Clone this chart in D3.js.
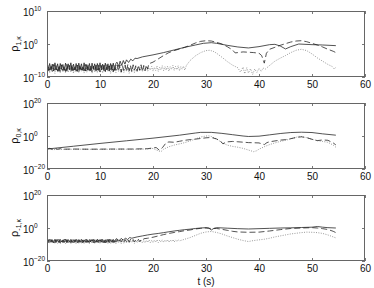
<!DOCTYPE html>
<html><head><meta charset="utf-8">
<script src="https://cdn.jsdelivr.net/npm/d3@7/dist/d3.min.js"></script>
<style>
html,body{margin:0;padding:0;background:#fff;}
svg{display:block;font-family:"Liberation Sans",Arial,Helvetica,sans-serif;}
</style></head>
<body>
<svg id="chart" width="374" height="288"></svg>
<script>
// ---------- DATA (values are log10 exponents of rho) ----------
const xTicks = [0, 10, 20, 30, 40, 50, 60];
const NOISE_DT = 0.25; // sampling step (s) of the oscillating start segments

// Panel 1: rho_{1,kappa}
const p1Ticks = [-10, 0, 10];
const p1SolidNoise = [
 -5.8,-8.1,-5.9,-7.8,-6.1,-8.2,-5.7,-7.9,-6.0,-8.3,
 -5.9,-7.7,-6.2,-8.0,-5.8,-8.2,-6.0,-7.8,-5.7,-8.1,
 -6.1,-7.9,-5.9,-8.3,-5.8,-7.8,-6.0,-8.0,-5.7,-8.2,
 -6.2,-7.9,-5.9,-8.1,-5.8,-7.7,-6.0,-8.2,-5.9,-8.0,
 -5.7,-7.9,-6.1,-8.1,-5.8,-7.8,-6.0,-8.2,-5.9,-7.9,
 -5.8,-8.0,-5.9];
const p1Solid = [[13.2,-5.5],[13.5,-6.8],[13.8,-5.2],[14.1,-6.5],[14.4,-5.0],[14.7,-6.1],[15,-4.8],[15.4,-5.6],[15.8,-4.6],[16.2,-5.1],[16.6,-4.3],[17,-4.4],[18,-3.9],[20,-3.3],[22,-2.6],[24,-1.8],[26,-1.0],[28,-0.3],[29.5,0.2],[31,0.4],[32,0.2],[34,-0.4],[36,-0.9],[38,-1.2],[40,-0.8],[42,-0.2],[43,-0.1],[44,-0.6],[45,-1.5],[46,-0.8],[47.5,0],[50,-0.2],[52,-0.3],[54.5,-0.5]];
const p1DashedNoise = [
 -8.3,-6.3,-8.0,-6.5,-8.4,-6.2,-7.9,-6.6,-8.2,-6.4,
 -8.5,-6.3,-8.1,-6.7,-8.3,-6.2,-7.8,-6.5,-8.4,-6.3,
 -8.0,-6.6,-8.2,-6.4,-8.5,-6.3,-7.9,-6.6,-8.1,-6.2,
 -8.3,-6.5,-8.0,-6.3,-8.4,-6.7,-8.2,-6.4,-7.9,-6.3,
 -8.5,-6.5,-8.1,-6.4,-8.3,-6.2,-8.0,-6.6,-8.2,-6.3,
 -8.4,-6.5,-7.9,-6.4,-8.2,-6.3,-8.5,-6.6,-8.0,-6.4,
 -8.3,-6.2,-8.1,-6.5,-8.4,-6.3,-7.9,-6.6,-8.2,-6.4,
 -8.0,-6.3,-8.3,-6.5,-8.1,-6.4,-7.6];
const p1Dashed = [[19.2,-6.0],[20,-5.5],[21,-4.5],[22,-3.5],[23,-2.6],[24,-2.0],[25,-1.5],[26,-1.0],[27,-0.4],[28,0.3],[29,0.8],[30,1.0],[31,0.9],[32,0.5],[33,0],[34,-0.8],[35,-1.8],[35.5,-2.7],[36,-2.6],[37,-2.4],[38,-2.5],[39,-2.6],[40,-2.8],[40.5,-3.5],[41,-5.8],[41.4,-2.8],[42,-1.6],[43,-1.0],[44,-0.4],[45,0.1],[46,0.6],[47,0.9],[48,1.0],[49,0.7],[50,0.2],[51,-0.3],[52,-0.9],[53,-1.6],[54,-2.2],[54.5,-2.6]];
const p1DottedNoise = [
 -8.6,-7.0,-8.8,-6.8,-8.4,-7.1,-8.9,-6.9,-8.5,-7.2,
 -8.7,-6.8,-8.3,-7.0,-8.8,-6.9,-8.6,-7.3,-8.4,-6.7,
 -8.9,-7.0,-8.5,-6.8,-8.7,-7.1,-8.3,-6.9,-8.8,-7.0,
 -8.6,-6.8,-8.4,-7.2,-8.9,-6.9,-8.5,-7.0,-8.7,-6.8,
 -8.4,-7.1,-8.8,-6.9,-8.6,-7.0,-8.3,-6.8,-8.9,-7.2,
 -8.5,-6.9,-8.7,-7.0,-8.4,-6.8,-8.8,-7.1,-8.6,-6.9,
 -8.3,-7.0,-8.9,-6.8,-8.5,-7.2,-8.7,-6.9,-8.4,-7.0,
 -8.1,-6.8,-8.4,-7.0,-8.0,-6.9,-8.3,-7.2,-7.9,-6.8,
 -8.2,-7.1,-8.0,-6.7,-8.3,-7.0,-7.8,-6.6,-8.1,-6.9,
 -7.9,-6.7,-8.2,-6.9,-7.7,-6.5,-8.0,-6.8,-7.8,-6.6,
 -8.1,-6.9,-7.6,-6.7,-7.9];
const p1Dotted = [[26.3,-6.5],[27,-5.0],[28,-3.6],[29,-2.6],[30,-2.0],[30.7,-1.9],[31.5,-2.3],[32,-2.8],[33,-4.0],[34,-5.3],[35,-6.4],[36,-7.2],[36.5,-8.5],[37,-7.0],[37.3,-9.0],[37.7,-7.2],[38,-8.8],[38.4,-7.5],[38.8,-9.2],[39.2,-7.6],[39.6,-8.6],[40,-7.4],[40.4,-8.3],[40.8,-7.3],[41.2,-7.6],[42,-6.5],[43,-5.2],[44,-4.3],[45,-3.5],[46,-2.6],[47,-1.9],[48,-1.6],[49,-2.0],[50,-3.0],[51,-4.2],[52,-5.2],[53,-6.2],[53.8,-6.8],[54.2,-7.6],[54.5,-7.0]];

// Panel 2: rho_{0,kappa}
const p2Ticks = [-20, 0, 20];
const p2Solid = [[0,-7.9],[5,-6.2],[10,-4.5],[15,-2.9],[20,-1.3],[25,0.5],[28,1.8],[29,2.2],[31,2.2],[33,1.6],[35,0.8],[37,0],[38,-0.3],[40,-0.1],[42,0.7],[44,1.5],[46,2.1],[48,2.3],[50,2.1],[52,1.3],[54.5,0.5]];
const p2Dashed = [[0,-7.9],[0.5,-7.5],[1,-8.2],[1.5,-7.6],[2,-8.1],[2.5,-7.7],[3,-8.0],[5,-7.9],[8,-8.0],[12,-7.9],[16,-7.9],[19,-7.7],[20,-7.2],[20.6,-7.0],[21.2,-8.6],[21.8,-7.0],[22.5,-4.0],[23,-3.6],[24,-3.8],[25,-3.2],[26,-2.6],[27,-2.2],[28,-1.9],[29,-1.5],[30,-1.1],[31,-0.9],[32,-1.8],[32.7,-3.0],[33.2,-4.8],[33.8,-3.6],[35,-3.3],[36,-3.5],[38,-4.0],[40,-4.2],[41,-5.2],[41.5,-4.0],[42,-3.5],[43,-3.0],[44,-2.5],[45,-2.2],[46,-1.6],[47,-0.9],[48,-0.5],[49,-1.0],[50,-2.0],[51,-2.8],[52,-2.4],[53,-2.6],[54,-4.2],[54.5,-5.4]];
const p2Dotted = [[0,-8.0],[0.7,-7.6],[1.3,-8.3],[2,-7.8],[3,-8.1],[6,-8.0],[10,-8.1],[14,-8.0],[18,-8.0],[20,-7.6],[21,-9.0],[21.5,-9.5],[22,-8.0],[23,-6.5],[24,-5.5],[25,-4.8],[26,-4.0],[27,-3.0],[28,-1.8],[29,-0.6],[30,0],[30.5,0.1],[31,-0.3],[32,-1.8],[33,-4.0],[34,-5.5],[35,-6.3],[36,-6.8],[37,-7.5],[38,-8.5],[39,-9.5],[39.5,-9.0],[40,-8.0],[41,-6.5],[42,-5.2],[43,-4.2],[44,-3.3],[45,-2.6],[46,-1.8],[47,-0.8],[47.5,-0.2],[48,-0.3],[49,-1.0],[50,-2.0],[51,-2.8],[52,-3.3],[53,-3.8],[54,-5.5],[54.5,-6.8]];

// Panel 3: rho_{-1,kappa}
const p3Ticks = [-20, 0, 20];
const p3SolidNoise = [
 -7.0,-8.8,-6.9,-8.6,-7.1,-9.0,-6.8,-8.7,-7.0,-8.9,
 -6.9,-8.5,-7.2,-8.8,-6.8,-9.0,-7.0,-8.6,-6.9,-8.8,
 -7.1,-8.7,-6.8,-8.9,-7.0,-8.6,-6.9,-9.0,-7.2,-8.7,
 -6.8,-8.8,-7.0,-8.5,-6.9,-8.9,-7.1,-8.7,-6.8,-8.8,
 -7.0,-8.6,-6.9,-9.0,-7.1,-8.7,-6.8,-8.8,-7.0,-8.6,
 -6.9,-8.7,-6.7];
const p3Solid = [[13.2,-6.5],[13.6,-7.8],[14,-6.3],[14.4,-7.4],[14.8,-6.1],[15.2,-7.0],[15.6,-5.8],[16,-6.2],[17,-5.4],[18,-4.8],[19,-4.2],[20,-3.7],[21,-3.3],[22,-2.8],[23,-2.3],[24,-1.8],[25,-1.4],[26,-1.0],[27,-0.7],[28,-0.3],[29,0],[30,0.2],[30.5,0],[31,-1.2],[31.5,-0.2],[32,0.2],[34,-0.1],[36,-0.4],[38,-0.6],[40,-0.4],[42,-0.2],[44,0],[46,0.1],[48,0.3],[50,0.5],[51,0.9],[52,0.5],[53,0.2],[54.5,0]];
const p3DashedNoise = [
 -8.7,-7.0,-8.9,-6.9,-8.6,-7.2,-8.8,-7.0,-8.5,-6.9,
 -8.9,-7.1,-8.7,-6.8,-8.8,-7.0,-8.6,-7.2,-8.9,-6.9,
 -8.7,-7.1,-8.5,-7.0,-8.8,-6.9,-8.6,-7.2,-8.9,-7.0,
 -8.7,-6.8,-8.8,-7.1,-8.6,-6.9,-8.9,-7.0,-8.5,-7.2,
 -8.8,-6.9,-8.6,-7.1,-8.9,-7.0,-8.7,-6.8,-8.5,-7.1,
 -8.8,-6.9,-8.6,-7.0,-8.7,-7.2,-8.4,-6.9,-8.6,-7.0,
 -8.3,-6.8,-8.5,-6.9,-8.2,-7.0,-8.4,-7.1,-8.0,-6.9,
 -8.2,-7.0,-7.4];
const p3Dashed = [[18.3,-6.5],[19,-6.2],[20,-5.6],[21,-4.8],[22,-4.0],[23,-3.3],[24,-2.7],[25,-2.2],[26,-1.6],[27,-1.2],[28,-0.6],[29,-0.2],[30,0],[31,-0.3],[32,-0.3],[33,-0.8],[34,-1.4],[35,-2.0],[36,-2.4],[38,-2.6],[40,-2.5],[42,-1.8],[44,-1.0],[46,-0.3],[48,0],[50,0.2],[51,0],[52,-0.4],[53,-0.9],[54,-2.0],[54.5,-2.8]];
const p3DottedNoise = [
 -9.2,-7.6,-9.4,-7.5,-9.1,-7.8,-9.5,-7.6,-9.3,-7.7,
 -9.6,-7.5,-9.2,-7.7,-9.4,-7.6,-9.1,-7.9,-9.5,-7.5,
 -9.3,-7.7,-9.6,-7.6,-9.2,-7.8,-9.4,-7.5,-9.3,-7.7,
 -9.1,-7.6,-9.5,-7.8,-9.3,-7.5,-9.4,-7.7,-9.2,-7.6,
 -9.5,-7.7,-9.1,-7.5,-9.4,-7.8,-9.3,-7.6,-9.6,-7.7,
 -9.2,-7.5,-9.4,-7.6,-9.1,-7.8,-9.5,-7.4,-9.3,-7.7,
 -9.0,-7.5,-9.2,-7.8,-8.9,-7.6,-9.3,-7.4,-9.0,-7.7,
 -8.8,-7.3,-9.1,-7.6,-8.9,-7.4,-8.7,-7.2,-9.0,-7.5,
 -8.8,-7.3,-8.6,-7.1,-8.9,-7.4,-8.5,-7.2,-8.7,-7.3,
 -8.4,-7.1,-8.6,-7.3,-8.3,-7.0,-8.5,-7.2,-8.2,-7.1,
 -7.8];
const p3Dotted = [[25.3,-7.5],[26,-6.8],[27,-5.8],[28,-4.5],[29,-3.2],[30,-2.4],[31,-2.1],[32,-2.7],[33,-3.6],[34,-4.8],[35,-5.8],[36,-6.8],[37,-7.6],[38,-8.2],[39,-7.6],[40,-7.2],[41,-6.8],[42,-6.2],[43,-5.4],[44,-4.8],[45,-4.2],[46,-3.6],[47,-3.2],[48,-2.8],[49,-2.5],[50,-2.6],[51,-2.8],[52,-3.3],[53,-4.2],[54,-5.4],[54.5,-6.0]];

const yLabels = ["1,κ", "0,κ", "-1,κ"];
const xTitle = "t (s)";

// ---------- LAYOUT ----------
const left = 47, right = 365;
const panelTops = [11, 103, 195];
const panelH = 66;
const font = "Liberation Sans, Arial, Helvetica, sans-serif";

const svg = d3.select("#chart");
const x = d3.scaleLinear().domain([0, 60]).range([left, right]);

function withNoise(noise, rest) {
  const pts = noise.map((v, i) => [i * NOISE_DT, v]);
  return rest ? pts.concat(rest) : pts;
}

const panels = [
  {ticks: p1Ticks, label: yLabels[0], series: [
     {pts: withNoise(p1DottedNoise, p1Dotted), style: "dotted"},
     {pts: withNoise(p1DashedNoise, p1Dashed), style: "dashed"},
     {pts: withNoise(p1SolidNoise, p1Solid), style: "solid"}]},
  {ticks: p2Ticks, label: yLabels[1], series: [
     {pts: p2Dotted, style: "dotted"},
     {pts: p2Dashed, style: "dashed"},
     {pts: p2Solid, style: "solid"}]},
  {ticks: p3Ticks, label: yLabels[2], series: [
     {pts: withNoise(p3DottedNoise, p3Dotted), style: "dotted"},
     {pts: withNoise(p3DashedNoise, p3Dashed), style: "dashed"},
     {pts: withNoise(p3SolidNoise, p3Solid), style: "solid"}]}
];

const styles = {
  solid:  {stroke: "#1a1a1a", width: 0.75, dash: null},
  dashed: {stroke: "#1a1a1a", width: 0.75, dash: "6,3"},
  dotted: {stroke: "#777", width: 0.75, dash: "1,1.4"}
};

panels.forEach((p, k) => {
  const top = panelTops[k], bot = top + panelH;
  const y = d3.scaleLog()
    .domain([Math.pow(10, p.ticks[0]), Math.pow(10, p.ticks[2])])
    .range([bot, top]);
  const g = svg.append("g");

  const clipId = "clip" + k;
  svg.append("clipPath").attr("id", clipId).append("rect")
    .attr("x", left).attr("y", top).attr("width", right - left).attr("height", panelH);

  const line = d3.line()
    .x(d => x(d[0]))
    .y(d => y(Math.pow(10, d[1])));

  const lg = g.append("g").attr("clip-path", `url(#${clipId})`);
  p.series.forEach(s => {
    const st = styles[s.style];
    lg.append("path").datum(s.pts)
      .attr("d", line)
      .attr("fill", "none")
      .attr("stroke", st.stroke)
      .attr("stroke-width", st.width)
      .attr("stroke-linejoin", "round")
      .attr("stroke-dasharray", st.dash);
  });

  // axes (ticks inside, box style)
  const xb = g.append("g").attr("transform", `translate(0,${bot})`)
    .call(d3.axisBottom(x).tickValues(xTicks).tickSize(-3).tickPadding(4).tickFormat(d3.format("d")));
  const xt = g.append("g").attr("transform", `translate(0,${top})`)
    .call(d3.axisTop(x).tickValues(xTicks).tickSize(-3).tickFormat(""));
  const tv = p.ticks.map(e => Math.pow(10, e));
  const yl = g.append("g").attr("transform", `translate(${left},0)`)
    .call(d3.axisLeft(y).tickValues(tv).tickSize(-3).tickFormat(""));
  const yr = g.append("g").attr("transform", `translate(${right},0)`)
    .call(d3.axisRight(y).tickValues(tv).tickSize(-3).tickFormat(""));
  [xb, xt, yl, yr].forEach(a => {
    a.selectAll(".domain").remove();
    a.selectAll(".tick line").attr("stroke", "#555").attr("stroke-width", 0.8);
  });
  xb.selectAll(".tick text").attr("font-size", 10).attr("font-family", font).attr("fill", "#111");

  // box
  g.append("rect")
    .attr("x", left + 0.5).attr("y", top + 0.5)
    .attr("width", right - left - 1).attr("height", panelH - 1)
    .attr("fill", "none").attr("stroke", "#666").attr("stroke-width", 1);

  // y tick labels 10^e
  const lab = g.append("g").attr("font-family", font).attr("fill", "#111");
  p.ticks.forEach(e => {
    const yy = y(Math.pow(10, e));
    lab.append("text").attr("x", left - 13).attr("y", yy + 1).attr("dy", "0.35em")
      .attr("text-anchor", "end").attr("font-size", 10).text("10");
    lab.append("text").attr("x", left - 13).attr("y", yy - 0.5)
      .attr("text-anchor", "start").attr("font-size", 6.5).text(e === 0 ? "0" : (e < 0 ? "−" + (-e) : String(e)));
  });

  // y axis title rho_{..}
  const cy = (top + bot) / 2;
  const t = g.append("text").attr("font-family", font).attr("fill", "#111")
    .attr("transform", `translate(18,${cy}) rotate(-90)`)
    .attr("text-anchor", "middle");
  t.append("tspan").attr("font-size", 11).text("ρ");
  t.append("tspan").attr("font-size", 7).attr("dy", 2.5).text(p.label);
});

svg.append("text")
  .attr("x", (left + right) / 2).attr("y", 285)
  .attr("text-anchor", "middle").attr("font-family", font)
  .attr("font-size", 10).attr("fill", "#111").text(xTitle);
</script>
</body></html>
